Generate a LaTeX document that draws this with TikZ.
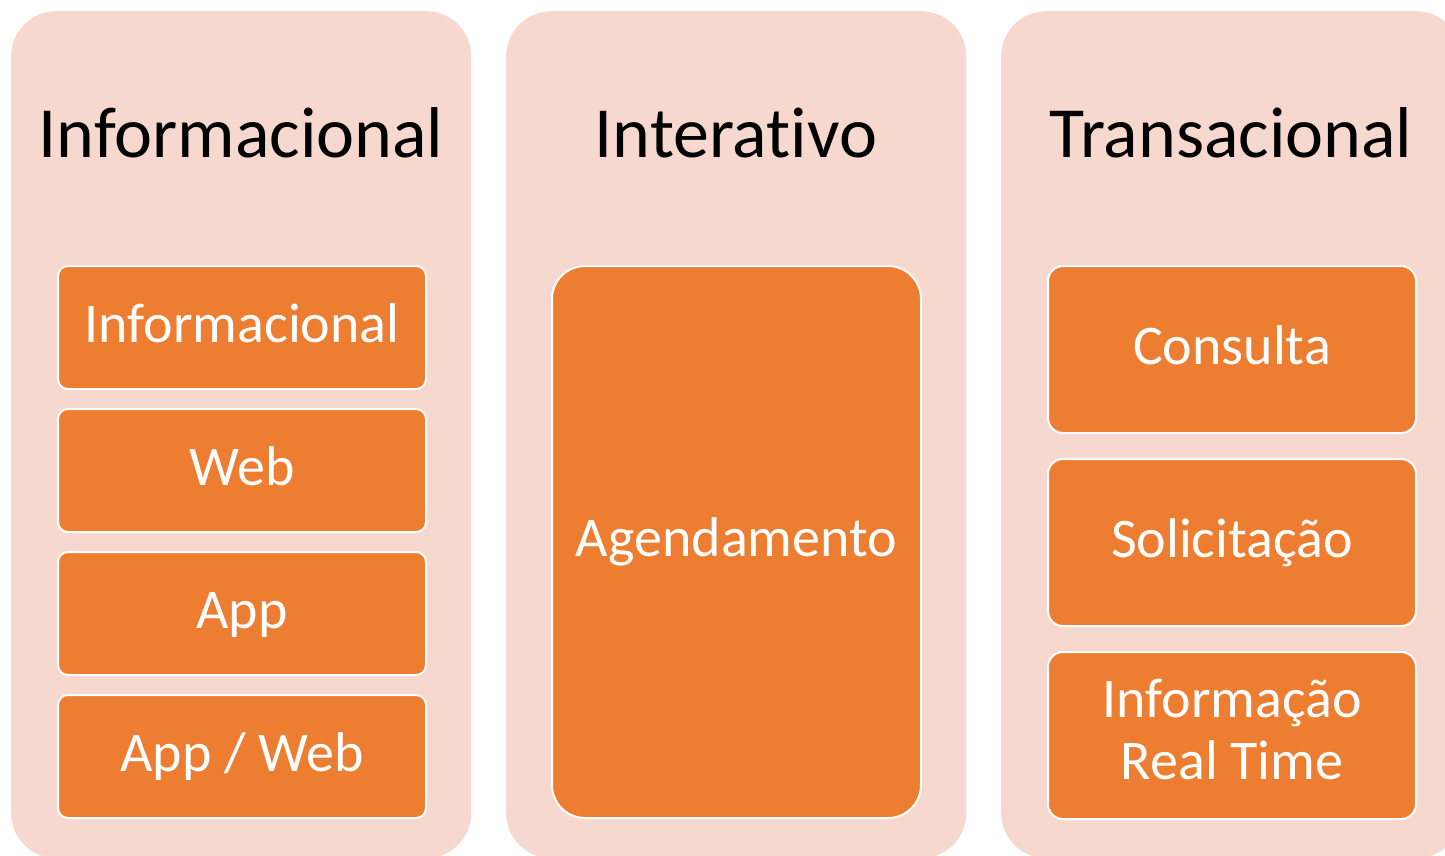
\documentclass[tikz,border=0pt]{standalone}
\usepackage{fontspec}
\setmainfont{Carlito}[Ligatures=NoCommon]
\definecolor{panelpink}{HTML}{F7D8CE}
\definecolor{boxorange}{HTML}{ED7D31}
\begin{document}
\begin{tikzpicture}[x=1pt,y=-1pt,
  panelbox/.style={fill=panelpink, draw=none, rounded corners=45pt,
    minimum width=460pt, minimum height=847pt, anchor=north west, inner sep=0pt},
  titletext/.style={font=\fontsize{72}{86}\selectfont, text=black, anchor=base, inner sep=0pt},
  itembox/.style={fill=boxorange, draw=white, line width=2pt, text=white,
    font=\fontsize{56}{62}\selectfont, anchor=north west, inner sep=0pt,
    text height=29pt, text depth=0pt, align=center},
  leftbox/.style={itembox, rounded corners=10pt, minimum width=368pt, minimum height=123pt},
  midbox/.style={itembox, rounded corners=33pt, minimum width=369pt, minimum height=552pt},
  rightbox/.style={itembox, rounded corners=15pt, minimum width=368pt, minimum height=167pt}
]
\useasboundingbox (0,0) rectangle (1445,855);
\clip (0,0) rectangle (1445,855);
\fill[white] (0,0) rectangle (1445,855);
% panels
\node[panelbox] (p1) at (11,11) {};
\node[panelbox] (p2) at (506,11) {};
\node[panelbox] (p3) at (1001,11) {};
% titles
\node[titletext] (t1) at (241,157) {Informacional};
\node[titletext] (t2) at (736,157) {Interativo};
\node[titletext] (t3) at (1231,157) {Transacional};
% left column
\node[leftbox] (l1) at (57,265) {Informacional};
\node[leftbox] (l2) at (57,408) {Web};
\node[leftbox] (l3) at (57,551) {App};
\node[leftbox] (l4) at (57,694) {App / Web};
% middle
\node[midbox] (m1) at (551,265) {Agendamento};
% right column
\node[rightbox] (r1) at (1047,265) {Consulta};
\node[rightbox] (r2) at (1047,458) {Solicitação};
\node[rightbox, text height=88pt] (r3) at (1047,651) {Informação\\Real Time};
\end{tikzpicture}
\end{document}
